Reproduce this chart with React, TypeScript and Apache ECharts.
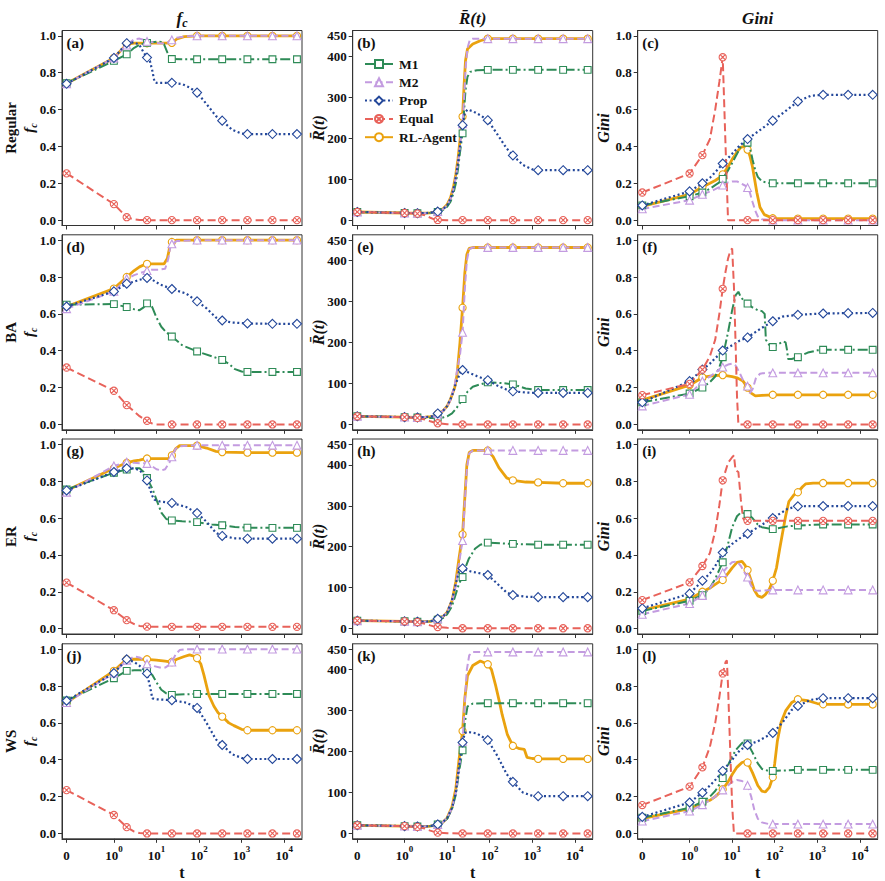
import { useEffect, useRef } from 'react';
import * as echarts from 'echarts';

// symlog axis (base 10, linthresh 1, linscale 1), same mapping matplotlib uses
const LINSCALE = 1 / (1 - 1 / 10);
const symlog = (t: number) => (t <= 1 ? t * LINSCALE : LINSCALE + Math.log10(t));

const X_TICKS = [0, 1, 10, 100, 1000, 10000];
const X_TICK_EXP = ['', '0', '1', '2', '3', '4'];
const MARK_T = [0, 1, 2, 6, 23, 90, 350, 1370, 5300, 20000];
const UNIT_TICKS = [0, 0.2, 0.4, 0.6, 0.8, 1.0];
const R_TICKS = [0, 100, 200, 300, 400, 450];

const NETWORKS = ['Regular', 'BA', 'ER', 'WS'];
const SERIES_NAMES = ['M1', 'M2', 'Prop', 'Equal', 'RL-Agent'];
const PANEL_TAGS = ['(a)', '(b)', '(c)', '(d)', '(e)', '(f)', '(g)', '(h)', '(i)', '(j)', '(k)', '(l)'];

type Pt = [number, number];

// ---- Regular ----
const A_M1: Pt[] = [[0,0.743],[1,0.864],[2,0.9],[3,0.935],[4,0.952],[5,0.958],[6,0.962],[8,0.965],[10,0.968],[13,0.967],[15,0.955],[18,0.91],[21,0.878],[23,0.874],[40,0.873],[90,0.873],[350,0.873],[1370,0.873],[5300,0.873],[20000,0.873]];
const A_M2: Pt[] = [[0,0.74],[1,0.88],[2,0.95],[3,0.982],[4,0.985],[5,0.978],[6,0.97],[10,0.962],[15,0.958],[20,0.968],[23,0.978],[30,0.99],[50,0.998],[90,1.0],[350,1.0],[1370,1.0],[5300,1.0],[20000,1.0]];
const A_PROP: Pt[] = [[0,0.74],[1,0.88],[2,0.96],[3,0.965],[4,0.95],[5,0.91],[6,0.882],[7,0.865],[8,0.81],[9,0.75],[10,0.745],[23,0.745],[40,0.738],[60,0.72],[90,0.692],[150,0.63],[250,0.565],[350,0.54],[600,0.49],[1000,0.47],[1370,0.467],[5300,0.467],[20000,0.467]];
const A_EQ: Pt[] = [[0,0.254],[1,0.087],[2,0.016],[3,0.004],[4,0.001],[6,0],[23,0],[90,0],[350,0],[1370,0],[5300,0],[20000,0]];
const A_RL: Pt[] = [[0,0.742],[1,0.88],[2,0.955],[3,0.96],[6,0.96],[10,0.96],[15,0.96],[23,0.962],[30,0.983],[45,0.996],[90,1.0],[350,1.0],[1370,1.0],[5300,1.0],[20000,1.0]];

const B_M1: Pt[] = [[0,20],[1,17.5],[2,17],[3,17],[4,18],[5,19],[6,20],[8,25],[10,33],[12,45],[14,65],[16,90],[18,125],[20,165],[23,212],[25,268],[27,318],[30,350],[35,362],[50,366],[90,367],[350,367],[1370,367],[5300,367],[20000,367]];
const B_M2: Pt[] = [[0,20],[1,17.5],[2,17],[3,17],[4,18],[5,19.5],[6,21],[8,27],[10,36],[12,52],[14,75],[16,105],[18,140],[20,182],[23,235],[25,300],[27,370],[30,420],[34,440],[40,443],[90,443],[350,443],[1370,443],[5300,443],[20000,443]];
const B_PROP: Pt[] = [[0,20],[1,17.5],[2,17],[3,17],[4,18],[5,19.5],[6,21],[8,27],[10,36],[12,52],[14,75],[16,105],[18,140],[20,180],[23,232],[26,262],[30,270],[40,266],[60,256],[90,244],[150,210],[250,175],[350,158],[600,135],[1000,124],[1370,122],[5300,122],[20000,122]];
const B_EQ: Pt[] = [[0,20],[1,17.5],[2,16],[3,12],[4,6],[5,2],[6,0.5],[10,0],[23,0],[90,0],[350,0],[1370,0],[5300,0],[20000,0]];
const B_RL: Pt[] = [[0,20],[1,17.5],[2,17],[3,17],[4,18],[5,19.5],[6,21],[8,28],[10,38],[12,55],[14,80],[16,112],[18,150],[20,195],[23,253],[25,330],[27,390],[30,418],[40,430],[60,438],[90,443],[350,443],[1370,443],[5300,443],[20000,443]];

const C_M1: Pt[] = [[0,0.08],[1,0.13],[2,0.15],[3,0.17],[4,0.19],[5,0.205],[6,0.224],[8,0.27],[10,0.31],[13,0.36],[16,0.4],[20,0.42],[23,0.42],[26,0.395],[30,0.33],[35,0.27],[40,0.235],[50,0.21],[70,0.202],[90,0.2],[350,0.2],[1370,0.2],[5300,0.2],[20000,0.2]];
const C_M2: Pt[] = [[0,0.061],[1,0.108],[2,0.14],[3,0.155],[4,0.168],[5,0.18],[6,0.19],[8,0.205],[10,0.21],[13,0.21],[16,0.2],[20,0.188],[23,0.177],[26,0.15],[30,0.1],[35,0.05],[40,0.02],[50,0.005],[90,0],[350,0],[1370,0],[5300,0],[20000,0]];
const C_PROP: Pt[] = [[0,0.08],[1,0.156],[2,0.2],[3,0.23],[4,0.26],[5,0.285],[6,0.307],[10,0.36],[15,0.405],[23,0.44],[40,0.48],[90,0.54],[200,0.6],[350,0.644],[700,0.675],[1370,0.68],[5300,0.68],[20000,0.68]];
const C_EQ: Pt[] = [[0,0.15],[1,0.253],[2,0.353],[3,0.44],[4,0.6],[5,0.75],[6,0.884],[7,0.4],[8,0],[23,0],[90,0],[350,0],[1370,0],[5300,0],[20000,0]];
const C_RL: Pt[] = [[0,0.075],[1,0.14],[2,0.18],[3,0.2],[4,0.215],[5,0.23],[6,0.248],[8,0.29],[10,0.33],[13,0.37],[16,0.395],[19,0.4],[23,0.383],[26,0.35],[30,0.29],[38,0.15],[45,0.07],[57,0.03],[90,0.01],[350,0.008],[1370,0.008],[5300,0.008],[20000,0.008]];

// ---- BA ----
const D_M1: Pt[] = [[0,0.65],[1,0.653],[2,0.637],[3,0.625],[4,0.62],[5,0.635],[6,0.657],[7,0.655],[8,0.635],[10,0.58],[13,0.53],[17,0.5],[23,0.477],[40,0.43],[90,0.396],[200,0.37],[350,0.35],[500,0.33],[700,0.3],[1000,0.287],[1370,0.285],[5300,0.285],[20000,0.285]];
const D_M2: Pt[] = [[0,0.628],[1,0.722],[2,0.791],[3,0.81],[4,0.82],[5,0.828],[6,0.835],[8,0.84],[12,0.84],[16,0.845],[19,0.9],[21,0.96],[23,0.98],[30,0.995],[90,1.0],[350,1.0],[1370,1.0],[5300,1.0],[20000,1.0]];
const D_PROP: Pt[] = [[0,0.64],[1,0.722],[2,0.764],[3,0.775],[4,0.785],[5,0.79],[6,0.795],[8,0.785],[12,0.76],[23,0.735],[50,0.71],[90,0.668],[150,0.63],[250,0.58],[350,0.564],[600,0.553],[1370,0.548],[5300,0.546],[20000,0.546]];
const D_EQ: Pt[] = [[0,0.309],[1,0.183],[2,0.105],[3,0.07],[4,0.045],[5,0.03],[6,0.02],[8,0.005],[10,0],[23,0],[90,0],[350,0],[1370,0],[5300,0],[20000,0]];
const D_RL: Pt[] = [[0,0.64],[1,0.737],[2,0.8],[3,0.835],[4,0.855],[5,0.865],[6,0.871],[10,0.871],[15,0.871],[18,0.9],[20,0.95],[23,0.99],[30,1.0],[90,1.0],[350,1.0],[1370,1.0],[5300,1.0],[20000,1.0]];

const E_M1: Pt[] = [[0,20],[1,18],[2,17],[3,16],[4,16],[5,16],[6,17],[8,17],[10,20],[13,27],[16,38],[20,52],[23,62],[30,80],[40,92],[60,98],[90,103],[200,101],[350,98],[700,88],[1370,84],[5300,84],[20000,84]];
const E_M2: Pt[] = [[0,20],[1,18],[2,17],[3,18],[4,19],[5,21],[6,26],[8,33],[10,44],[12,60],[15,95],[17,130],[20,170],[23,225],[26,330],[29,400],[33,428],[40,432],[90,432],[350,432],[1370,432],[5300,432],[20000,432]];
const E_PROP: Pt[] = [[0,20],[1,18],[2,17],[3,18],[4,19],[5,21],[6,27],[8,33],[10,45],[13,70],[16,100],[20,125],[23,133],[30,128],[50,118],[90,108],[150,95],[250,85],[350,81],[700,78],[1370,77],[5300,77],[20000,77]];
const E_EQ: Pt[] = [[0,20],[1,18],[2,16],[3,12],[4,8],[5,5],[6,3],[10,0.5],[23,0],[90,0],[350,0],[1370,0],[5300,0],[20000,0]];
const E_RL: Pt[] = [[0,20],[1,18],[2,17],[3,18],[4,19],[5,21],[6,26],[8,33],[10,45],[12,62],[15,90],[17,120],[20,200],[23,285],[26,370],[29,415],[33,430],[40,432],[90,432],[350,432],[1370,432],[5300,432],[20000,432]];

const F_M1: Pt[] = [[0,0.12],[1,0.168],[2,0.2],[3,0.23],[4,0.26],[5,0.31],[6,0.365],[8,0.5],[10,0.62],[12,0.7],[14,0.72],[16,0.69],[20,0.665],[23,0.656],[30,0.635],[40,0.62],[50,0.615],[58,0.6],[62,0.46],[75,0.43],[90,0.42],[120,0.435],[160,0.45],[180,0.445],[196,0.4],[205,0.355],[250,0.355],[350,0.365],[600,0.39],[1000,0.402],[1370,0.405],[5300,0.405],[20000,0.405]];
const F_M2: Pt[] = [[0,0.1],[1,0.163],[2,0.235],[3,0.26],[4,0.28],[5,0.3],[6,0.311],[8,0.325],[10,0.33],[12,0.32],[15,0.28],[18,0.24],[23,0.208],[26,0.17],[30,0.19],[36,0.25],[45,0.275],[60,0.28],[90,0.28],[350,0.28],[1370,0.28],[5300,0.28],[20000,0.28]];
const F_PROP: Pt[] = [[0,0.12],[1,0.235],[2,0.298],[3,0.33],[4,0.36],[5,0.38],[6,0.401],[10,0.43],[15,0.455],[23,0.472],[40,0.51],[90,0.56],[150,0.585],[350,0.595],[1370,0.602],[5300,0.604],[20000,0.605]];
const F_EQ: Pt[] = [[0,0.159],[1,0.22],[2,0.298],[3,0.37],[4,0.46],[5,0.6],[6,0.736],[7,0.83],[8,0.9],[9,0.94],[10,0.955],[11,0.75],[12,0.45],[13,0.15],[14,0],[23,0],[90,0],[350,0],[1370,0],[5300,0],[20000,0]];
const F_RL: Pt[] = [[0,0.132],[1,0.213],[2,0.255],[3,0.262],[4,0.265],[5,0.267],[6,0.268],[10,0.26],[13,0.253],[18,0.235],[23,0.2],[28,0.17],[35,0.155],[50,0.158],[90,0.161],[350,0.161],[1370,0.161],[5300,0.161],[20000,0.161]];

// ---- ER ----
const G_M1: Pt[] = [[0,0.755],[1,0.846],[2,0.863],[3,0.87],[4,0.87],[5,0.85],[6,0.817],[8,0.76],[10,0.7],[13,0.63],[17,0.595],[23,0.587],[40,0.583],[90,0.578],[200,0.565],[350,0.561],[700,0.552],[1370,0.548],[5300,0.547],[20000,0.547]];
const G_M2: Pt[] = [[0,0.74],[1,0.883],[2,0.903],[3,0.9],[4,0.898],[5,0.897],[6,0.896],[8,0.88],[10,0.865],[13,0.858],[16,0.865],[20,0.9],[23,0.932],[28,0.975],[35,0.99],[90,0.995],[350,0.995],[1370,0.995],[5300,0.995],[20000,0.995]];
const G_PROP: Pt[] = [[0,0.75],[1,0.85],[2,0.87],[3,0.87],[4,0.86],[5,0.835],[6,0.804],[7,0.76],[8,0.72],[9,0.7],[12,0.69],[23,0.682],[50,0.66],[90,0.627],[150,0.58],[250,0.52],[350,0.503],[700,0.49],[1370,0.488],[5300,0.488],[20000,0.488]];
const G_EQ: Pt[] = [[0,0.25],[1,0.1],[2,0.046],[3,0.025],[4,0.015],[6,0.011],[23,0.01],[90,0.01],[350,0.01],[1370,0.01],[5300,0.01],[20000,0.01]];
const G_RL: Pt[] = [[0,0.75],[1,0.87],[2,0.9],[3,0.91],[4,0.915],[5,0.92],[6,0.923],[10,0.923],[19,0.923],[23,0.94],[28,0.975],[35,0.993],[90,0.993],[150,0.98],[250,0.962],[350,0.958],[1370,0.955],[5300,0.955],[20000,0.955]];

const H_M1: Pt[] = [[0,19.5],[1,18],[2,17],[3,17],[4,18],[5,20],[6,22],[8,26],[10,35],[13,55],[16,85],[19,110],[23,126],[27,150],[32,170],[45,195],[60,205],[90,210],[350,207],[1370,205],[5300,205],[20000,205]];
const H_M2: Pt[] = [[0,19.5],[1,18],[2,17],[3,17],[4,18],[5,20],[6,24],[8,30],[10,40],[13,65],[16,105],[19,160],[23,215],[26,310],[29,390],[33,428],[40,435],[90,435],[350,435],[1370,435],[5300,435],[20000,435]];
const H_PROP: Pt[] = [[0,19.5],[1,18],[2,17],[3,17],[4,18],[5,20],[6,24],[8,30],[10,40],[13,70],[16,110],[19,140],[23,147],[35,140],[90,131],[150,110],[250,88],[350,82],[700,78],[1370,77],[5300,77],[20000,77]];
const H_EQ: Pt[] = [[0,19.5],[1,18],[2,16],[3,12],[4,8],[5,5],[6,4],[10,2],[23,1],[90,1],[350,1],[1370,1],[5300,1],[20000,1]];
const H_RL: Pt[] = [[0,19.5],[1,18],[2,17],[3,17],[4,18],[5,20],[6,24],[8,30],[10,40],[13,68],[16,115],[19,172],[23,230],[26,320],[29,400],[33,430],[40,435],[90,435],[120,420],[164,393],[250,368],[350,362],[700,358],[1370,357],[5300,355],[20000,355]];

const I_M1: Pt[] = [[0,0.096],[1,0.151],[2,0.182],[3,0.22],[4,0.27],[5,0.32],[6,0.36],[8,0.46],[10,0.55],[13,0.61],[16,0.63],[23,0.622],[30,0.6],[40,0.565],[50,0.55],[90,0.54],[200,0.555],[350,0.56],[1370,0.565],[5300,0.565],[20000,0.565]];
const I_M2: Pt[] = [[0,0.078],[1,0.136],[2,0.18],[3,0.22],[4,0.26],[5,0.285],[6,0.304],[8,0.34],[10,0.36],[13,0.365],[16,0.34],[20,0.3],[23,0.28],[27,0.24],[32,0.21],[40,0.205],[90,0.21],[350,0.21],[1370,0.21],[5300,0.21],[20000,0.21]];
const I_PROP: Pt[] = [[0,0.11],[1,0.19],[2,0.26],[3,0.3],[4,0.34],[5,0.38],[6,0.413],[10,0.46],[15,0.49],[23,0.515],[40,0.55],[90,0.6],[200,0.65],[350,0.664],[1370,0.665],[5300,0.665],[20000,0.665]];
const I_EQ: Pt[] = [[0,0.155],[1,0.251],[2,0.34],[3,0.41],[4,0.53],[5,0.67],[6,0.805],[8,0.9],[10,0.93],[11,0.94],[12,0.86],[14,0.85],[16,0.7],[18,0.6],[20,0.585],[23,0.585],[90,0.585],[350,0.585],[1370,0.585],[5300,0.585],[20000,0.585]];
const I_RL: Pt[] = [[0,0.1],[1,0.16],[2,0.2],[3,0.22],[4,0.24],[5,0.255],[6,0.264],[8,0.3],[10,0.33],[13,0.36],[17,0.365],[20,0.345],[23,0.318],[28,0.26],[33,0.21],[40,0.178],[50,0.17],[60,0.185],[75,0.215],[90,0.26],[110,0.33],[130,0.43],[150,0.51],[180,0.61],[215,0.69],[280,0.725],[350,0.74],[450,0.77],[530,0.785],[800,0.79],[1370,0.79],[5300,0.79],[20000,0.79]];

// ---- WS ----
const J_M1: Pt[] = [[0,0.721],[1,0.842],[2,0.882],[3,0.885],[4,0.885],[5,0.884],[6,0.882],[8,0.86],[10,0.82],[13,0.78],[17,0.76],[23,0.752],[50,0.755],[90,0.757],[350,0.757],[1370,0.757],[5300,0.757],[20000,0.757]];
const J_M2: Pt[] = [[0,0.71],[1,0.87],[2,0.94],[3,0.96],[4,0.955],[5,0.94],[6,0.92],[8,0.91],[12,0.9],[16,0.9],[20,0.915],[23,0.93],[28,0.97],[35,0.995],[50,1.0],[90,1.0],[350,1.0],[1370,1.0],[5300,1.0],[20000,1.0]];
const J_PROP: Pt[] = [[0,0.72],[1,0.87],[2,0.945],[3,0.93],[4,0.91],[5,0.89],[6,0.868],[7,0.8],[8,0.733],[10,0.728],[23,0.723],[50,0.71],[90,0.681],[150,0.6],[250,0.51],[350,0.48],[600,0.43],[1000,0.41],[1370,0.404],[5300,0.404],[20000,0.404]];
const J_EQ: Pt[] = [[0,0.235],[1,0.1],[2,0.034],[3,0.01],[4,0.002],[6,0],[23,0],[90,0],[350,0],[1370,0],[5300,0],[20000,0]];
const J_RL: Pt[] = [[0,0.71],[1,0.882],[2,0.945],[3,0.946],[6,0.945],[10,0.94],[16,0.935],[23,0.93],[30,0.945],[45,0.96],[60,0.969],[80,0.96],[90,0.951],[110,0.92],[130,0.86],[170,0.75],[224,0.69],[280,0.655],[350,0.634],[500,0.6],[660,0.585],[1000,0.565],[1370,0.56],[5300,0.56],[20000,0.56]];

const K_M1: Pt[] = [[0,20],[1,18],[2,17],[3,17],[4,18],[5,20],[6,22],[8,27],[10,36],[13,60],[16,95],[19,150],[23,203],[26,270],[30,310],[40,317],[90,318],[350,318],[1370,318],[5300,318],[20000,318]];
const K_M2: Pt[] = [[0,20],[1,18],[2,17],[3,17],[4,18],[5,20],[6,22],[8,28],[10,38],[13,62],[16,100],[19,160],[23,225],[26,320],[29,400],[33,435],[40,443],[90,443],[350,443],[1370,443],[5300,443],[20000,443]];
const K_PROP: Pt[] = [[0,20],[1,18],[2,17],[3,17],[4,18],[5,20],[6,22],[8,28],[10,38],[13,62],[16,100],[19,165],[23,222],[26,245],[30,248],[50,244],[90,228],[150,190],[250,145],[350,126],[600,100],[1000,92],[1370,91],[5300,91],[20000,91]];
const K_EQ: Pt[] = [[0,20],[1,18],[2,16],[3,12],[4,7],[5,4],[6,2],[10,0.5],[23,0],[90,0],[350,0],[1370,0],[5300,0],[20000,0]];
const K_RL: Pt[] = [[0,20],[1,18],[2,17],[3,17],[4,18],[5,20],[6,22],[8,28],[10,38],[13,65],[16,110],[19,180],[23,250],[26,330],[30,385],[40,410],[60,421],[90,413],[110,400],[137,362],[170,320],[196,290],[260,241],[350,214],[500,207],[650,205],[750,186],[1000,183],[1370,182],[5300,182],[20000,182]];

const L_M1: Pt[] = [[0,0.085],[1,0.139],[2,0.172],[3,0.2],[4,0.23],[5,0.265],[6,0.3],[8,0.37],[10,0.42],[13,0.46],[17,0.49],[20,0.5],[23,0.489],[30,0.44],[40,0.38],[50,0.35],[70,0.34],[90,0.339],[350,0.345],[1370,0.345],[5300,0.345],[20000,0.345]];
const L_M2: Pt[] = [[0,0.067],[1,0.121],[2,0.156],[3,0.18],[4,0.2],[5,0.22],[6,0.236],[8,0.26],[10,0.28],[13,0.29],[17,0.285],[23,0.261],[28,0.2],[33,0.13],[40,0.08],[50,0.06],[70,0.052],[90,0.051],[350,0.051],[1370,0.051],[5300,0.051],[20000,0.051]];
const L_PROP: Pt[] = [[0,0.09],[1,0.168],[2,0.221],[3,0.26],[4,0.29],[5,0.315],[6,0.339],[10,0.4],[15,0.45],[23,0.48],[40,0.5],[90,0.545],[150,0.6],[250,0.67],[350,0.692],[700,0.725],[1370,0.734],[5300,0.734],[20000,0.734]];
const L_EQ: Pt[] = [[0,0.154],[1,0.254],[2,0.359],[3,0.47],[4,0.6],[5,0.74],[6,0.868],[7,0.93],[7.5,0.94],[8,0.8],[9,0.45],[10,0.15],[11,0],[23,0],[90,0],[350,0],[1370,0],[5300,0],[20000,0]];
const L_RL: Pt[] = [[0,0.08],[1,0.135],[2,0.165],[3,0.18],[4,0.2],[5,0.22],[6,0.24],[8,0.28],[10,0.32],[13,0.36],[17,0.385],[20,0.39],[23,0.385],[30,0.33],[40,0.26],[50,0.23],[60,0.225],[75,0.25],[90,0.305],[100,0.38],[115,0.5],[140,0.6],[180,0.665],[250,0.71],[350,0.728],[600,0.72],[1000,0.705],[1370,0.701],[5300,0.7],[20000,0.7]];

// panel order: rows = networks, columns = f_c, R(t), Gini; curves in SERIES_NAMES order
const PANEL_CURVES: Pt[][][] = [
  [A_M1, A_M2, A_PROP, A_EQ, A_RL], [B_M1, B_M2, B_PROP, B_EQ, B_RL], [C_M1, C_M2, C_PROP, C_EQ, C_RL],
  [D_M1, D_M2, D_PROP, D_EQ, D_RL], [E_M1, E_M2, E_PROP, E_EQ, E_RL], [F_M1, F_M2, F_PROP, F_EQ, F_RL],
  [G_M1, G_M2, G_PROP, G_EQ, G_RL], [H_M1, H_M2, H_PROP, H_EQ, H_RL], [I_M1, I_M2, I_PROP, I_EQ, I_RL],
  [J_M1, J_M2, J_PROP, J_EQ, J_RL], [K_M1, K_M2, K_PROP, K_EQ, K_RL], [L_M1, L_M2, L_PROP, L_EQ, L_RL],
];

// ---- layout & styles ----
const FONT = '"Liberation Serif", "Times New Roman", serif';
const INK = '#111111';
const AXIS_COLOR = '#333333';
const COL_LEFT = [62, 352.7, 637.7];
const PLOT_W = 240;
const ROW_TOP = [30.5, 234.8, 439, 643.8];
const PLOT_H = 195;
const X_MIN = -0.108;
const X_MAX = 5.53;
const COL_KIND = ['fc', 'r', 'gini'];
const Y_RANGE: Record<string, [number, number]> = { fc: [-0.029, 1.029], r: [-13, 463], gini: [-0.029, 1.029] };

const EQUAL_SYMBOL = 'path://M10,0A10,10,0,1,1,10,20A10,10,0,1,1,10,0ZM3,3L17,17M17,3L3,17';

const STYLES = [
  { color: '#2e8b57', width: 2, dash: [10, 3, 2, 3], symbol: 'rect', size: 6.8 },
  { color: '#c39be0', width: 2, dash: [7, 3.5], symbol: 'triangle', size: 7.8 },
  { color: '#23479a', width: 2.2, dash: [2, 2.6], symbol: 'diamond', size: 9 },
  { color: '#e8625a', width: 2, dash: [8, 4], symbol: EQUAL_SYMBOL, size: 7.2 },
  { color: '#eaa20e', width: 2.8, dash: 'solid', symbol: 'circle', size: 7.2 },
];

function buildSeries(grid: number, curve: Pt[], k: number) {
  const st = STYLES[k];
  return {
    type: 'line',
    name: SERIES_NAMES[k],
    xAxisIndex: grid,
    yAxisIndex: grid,
    data: curve.map(([t, v]) =>
      MARK_T.includes(t) ? [symlog(t), v] : { value: [symlog(t), v], symbol: 'none' }
    ),
    symbol: st.symbol,
    symbolSize: st.size,
    showSymbol: true,
    showAllSymbol: true,
    lineStyle: { color: st.color, width: st.width, type: st.dash, cap: 'butt' },
    itemStyle: { color: '#ffffff', borderColor: st.color, borderWidth: 1.1 },
    emphasis: { disabled: true },
    silent: true,
    z: k === 4 ? 2 : 3,
  };
}

function xLabel(v: number) {
  let best = 0;
  X_TICKS.forEach((t, i) => {
    if (Math.abs(symlog(t) - v) < Math.abs(symlog(X_TICKS[best]) - v)) best = i;
  });
  return best === 0 ? '{b|0}' : `{b|10}{s|${X_TICK_EXP[best]}}`;
}

function buildOption() {
  const grids: any[] = [];
  const xAxes: any[] = [];
  const yAxes: any[] = [];
  const series: any[] = [];
  const graphics: any[] = [];
  const tickText = { fontFamily: FONT, fontWeight: 'bold', fontSize: 13, color: INK };

  for (let i = 0; i < 12; i++) {
    const r = Math.floor(i / 3);
    const c = i % 3;
    const kind = COL_KIND[c];
    const yTicks = kind === 'r' ? R_TICKS : UNIT_TICKS;
    grids.push({
      left: COL_LEFT[c], top: ROW_TOP[r], width: PLOT_W, height: PLOT_H,
      show: true, borderColor: AXIS_COLOR, borderWidth: 1, backgroundColor: 'transparent',
    });
    const xt = X_TICKS.map(symlog);
    xAxes.push({
      gridIndex: i, type: 'value', min: X_MIN, max: X_MAX,
      axisLine: { show: true, onZero: false, lineStyle: { color: AXIS_COLOR, width: 1 } },
      axisTick: { show: true, length: 4, customValues: xt, lineStyle: { color: AXIS_COLOR, width: 1 } },
      axisLabel: {
        show: r === 3, customValues: xt, margin: 6, formatter: xLabel,
        rich: {
          b: { ...tickText, fontSize: 13, lineHeight: 17, verticalAlign: 'bottom' },
          s: { ...tickText, fontSize: 9, lineHeight: 7, verticalAlign: 'top' },
        },
      },
      splitLine: { show: false },
    });
    yAxes.push({
      gridIndex: i, type: 'value', min: Y_RANGE[kind][0], max: Y_RANGE[kind][1],
      axisLine: { show: true, onZero: false, lineStyle: { color: AXIS_COLOR, width: 1 } },
      axisTick: { show: true, length: 4, customValues: yTicks, lineStyle: { color: AXIS_COLOR, width: 1 } },
      axisLabel: {
        show: true, customValues: yTicks, margin: 6, ...tickText,
        formatter: (v: number) => (kind === 'r' ? String(Math.round(v)) : v.toFixed(1)),
      },
      splitLine: { show: false },
    });
    // orange agent drawn first, the four baselines on top of it
    const curves = PANEL_CURVES[i];
    series.push(buildSeries(i, curves[4], 4));
    for (let k = 0; k < 4; k++) series.push(buildSeries(i, curves[k], k));

    graphics.push({
      type: 'text', x: COL_LEFT[c] + 4.5, y: ROW_TOP[r] + 12,
      style: { text: PANEL_TAGS[i], font: `bold 15px ${FONT}`, fill: INK, align: 'left', verticalAlign: 'middle' },
    });
  }

  const colCenter = (c: number) => COL_LEFT[c] + PLOT_W / 2;
  const subRich = (size: number) => ({
    i: { fontFamily: FONT, fontStyle: 'italic', fontWeight: 'bold', fontSize: size, lineHeight: size + 4, verticalAlign: 'middle', fill: INK },
    s: { fontFamily: FONT, fontStyle: 'italic', fontWeight: 'bold', fontSize: Math.round(size * 0.68), lineHeight: Math.round(size * 0.68), verticalAlign: 'bottom', fill: INK },
    n: { fontFamily: FONT, fontWeight: 'bold', fontSize: size, lineHeight: size + 2, fill: INK },
  });

  // column titles
  graphics.push({ type: 'text', x: colCenter(0), y: 18, style: { text: '{i|f}{s|c}', rich: subRich(17), align: 'center', verticalAlign: 'middle' } });
  graphics.push({ type: 'text', x: colCenter(1), y: 18, style: { text: '{i|R\u0304(t)}', rich: subRich(17), align: 'center', verticalAlign: 'middle' } });
  graphics.push({ type: 'text', x: colCenter(2), y: 18, style: { text: '{i|Gini}', rich: subRich(17), align: 'center', verticalAlign: 'middle' } });

  for (let r = 0; r < 4; r++) {
    const cy = ROW_TOP[r] + PLOT_H / 2;
    graphics.push({
      type: 'text', x: 20, y: cy, rotation: Math.PI / 2,
      style: { text: `{n|${NETWORKS[r]}}\n{i|f}{s|c}`, rich: subRich(15), align: 'center', verticalAlign: 'middle' },
    });
    graphics.push({
      type: 'text', x: 318, y: cy, rotation: Math.PI / 2,
      style: { text: '{i|R\u0304(t)}', rich: subRich(16), align: 'center', verticalAlign: 'middle' },
    });
    graphics.push({
      type: 'text', x: 603, y: cy, rotation: Math.PI / 2,
      style: { text: '{i|Gini}', rich: subRich(16), align: 'center', verticalAlign: 'middle' },
    });
  }
  for (let c = 0; c < 3; c++) {
    graphics.push({
      type: 'text', x: colCenter(c), y: 872,
      style: { text: 't', font: `bold 16px ${FONT}`, fill: INK, align: 'center', verticalAlign: 'middle' },
    });
  }

  return {
    animation: false,
    backgroundColor: '#ffffff',
    grid: grids,
    xAxis: xAxes,
    yAxis: yAxes,
    series,
    legend: {
      show: true, data: SERIES_NAMES, orient: 'vertical', left: 359, top: 52,
      itemWidth: 28, itemHeight: 10, itemGap: 4.3, selectedMode: false,
      textStyle: { fontFamily: FONT, fontWeight: 'bold', fontSize: 13.5, color: INK, padding: [0, 0, 0, 1] },
    },
    graphic: graphics,
  };
}

export default function App() {
  const ref = useRef<HTMLDivElement>(null);
  useEffect(() => {
    if (!ref.current) return;
    const chart = echarts.init(ref.current, undefined, { renderer: 'svg' });
    chart.setOption(buildOption() as any);
    return () => chart.dispose();
  }, []);
  return <div ref={ref} style={{ position: 'absolute', left: 0, top: 0, width: 885, height: 881, background: '#fff' }} />;
}
